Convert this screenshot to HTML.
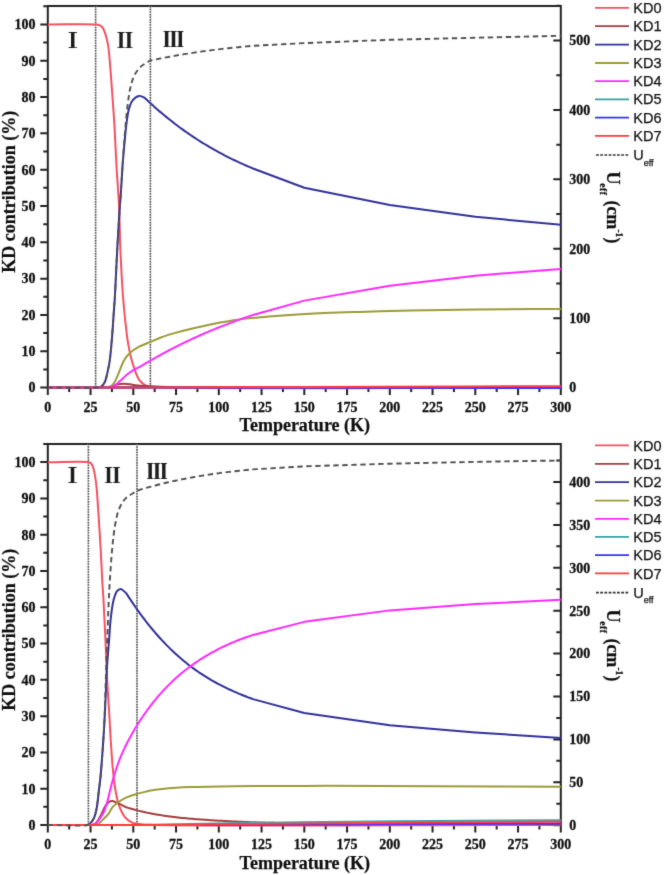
<!DOCTYPE html>
<html><head><meta charset="utf-8"><style>
html,body{margin:0;padding:0;background:#fff;}
svg{display:block;}
.tl{font-family:"Liberation Serif",serif;font-weight:bold;font-size:14px;fill:#111;stroke:#111;stroke-width:0.3px;}
.lg{font-family:"Liberation Sans",sans-serif;font-size:14.5px;fill:#111;stroke:#111;stroke-width:0.25px;}
.ti{font-family:"Liberation Serif",serif;font-weight:bold;font-size:18px;fill:#111;stroke:#111;stroke-width:0.25px;}
.rn{font-family:"Liberation Serif","Noto Serif CJK SC",serif;font-weight:900;font-size:21px;fill:#1a1a1a;}
</style></head><body>
<svg width="664" height="875" viewBox="0 0 664 875">
<defs><filter id="soft" x="0" y="0" width="100%" height="100%" filterUnits="userSpaceOnUse"><feConvolveMatrix order="3" kernelMatrix="0.01134 0.08382 0.01134 0.08382 0.61935 0.08382 0.01134 0.08382 0.01134" divisor="1" edgeMode="none"/></filter></defs>
<rect width="664" height="875" fill="#fff"/>
<g filter="url(#soft)">
<path d="M47.8,6.1 H560.8 V387.6 H47.8 Z" fill="none" stroke="#222" stroke-width="2"/>
<path d="M40.3,387.60 H47.8 M43.3,369.44 H47.8 M40.3,351.28 H47.8 M43.3,333.12 H47.8 M40.3,314.96 H47.8 M43.3,296.80 H47.8 M40.3,278.64 H47.8 M43.3,260.48 H47.8 M40.3,242.32 H47.8 M43.3,224.16 H47.8 M40.3,206.00 H47.8 M43.3,187.84 H47.8 M40.3,169.68 H47.8 M43.3,151.52 H47.8 M40.3,133.36 H47.8 M43.3,115.20 H47.8 M40.3,97.04 H47.8 M43.3,78.88 H47.8 M40.3,60.72 H47.8 M43.3,42.56 H47.8 M40.3,24.40 H47.8 M43.3,6.24 H47.8 M47.80,387.6 V395.1 M69.17,387.6 V392.1 M90.55,387.6 V395.1 M111.92,387.6 V392.1 M133.30,387.6 V395.1 M154.68,387.6 V392.1 M176.05,387.6 V395.1 M197.43,387.6 V392.1 M218.80,387.6 V395.1 M240.18,387.6 V392.1 M261.55,387.6 V395.1 M282.93,387.6 V392.1 M304.30,387.6 V395.1 M325.68,387.6 V392.1 M347.05,387.6 V395.1 M368.43,387.6 V392.1 M389.80,387.6 V395.1 M411.18,387.6 V392.1 M432.55,387.6 V395.1 M453.93,387.6 V392.1 M475.30,387.6 V395.1 M496.68,387.6 V392.1 M518.05,387.6 V395.1 M539.42,387.6 V392.1 M560.80,387.6 V395.1 M553.3,387.60 H560.8 M556.3,352.89 H560.8 M553.3,318.18 H560.8 M556.3,283.47 H560.8 M553.3,248.76 H560.8 M556.3,214.05 H560.8 M553.3,179.34 H560.8 M556.3,144.63 H560.8 M553.3,109.92 H560.8 M556.3,75.21 H560.8 M553.3,40.50 H560.8 M556.3,5.79 H560.8" stroke="#222" stroke-width="2" fill="none"/>
<line x1="95.6" y1="6.1" x2="95.6" y2="387.6" stroke="#cfcfcf" stroke-width="1.8"/>
<line x1="95.6" y1="6.1" x2="95.6" y2="387.6" stroke="#333" stroke-width="1.4" stroke-dasharray="1.3 1.3"/>
<line x1="150.4" y1="6.1" x2="150.4" y2="387.6" stroke="#cfcfcf" stroke-width="1.8"/>
<line x1="150.4" y1="6.1" x2="150.4" y2="387.6" stroke="#333" stroke-width="1.4" stroke-dasharray="1.3 1.3"/>
<path d="M47.80,24.40 C63.77,24.40 88.77,23.75 95.70,24.40 C97.64,24.58 98.27,24.59 99.40,25.10 C100.58,25.63 101.61,26.19 102.60,27.60 C104.56,30.37 106.38,37.01 107.60,42.60 C109.07,49.32 109.38,57.54 110.10,65.30 C110.86,73.45 111.34,81.36 112.00,90.40 C112.77,101.01 113.67,112.84 114.40,125.00 C115.22,138.55 115.80,154.21 116.60,168.00 C117.34,180.80 118.38,192.06 119.00,205.00 C119.68,219.26 119.75,235.00 120.40,250.00 C121.05,265.00 121.94,282.05 122.90,295.00 C123.63,304.86 124.42,312.78 125.30,321.00 C126.10,328.43 126.86,335.76 127.90,342.20 C128.78,347.65 129.71,352.50 130.90,357.20 C131.98,361.48 133.17,365.45 134.60,369.30 C135.96,372.97 137.20,377.06 139.20,379.80 C140.87,382.09 143.13,383.97 145.20,385.10 C146.92,386.04 148.27,386.21 150.50,386.60 C154.12,387.23 156.88,387.32 165.00,387.60 C207.38,389.06 428.87,387.60 560.80,387.60" fill="none" stroke="#f4505f" stroke-width="2" stroke-linejoin="round"/>
<path d="M108.00,387.60 C109.33,387.13 110.62,386.70 112.00,386.20 C113.48,385.67 114.85,384.91 116.60,384.50 C118.77,383.99 121.49,383.67 124.10,383.70 C126.97,383.74 129.88,384.53 133.10,384.90 C136.83,385.33 140.95,385.79 145.20,386.10 C149.93,386.44 154.00,386.59 160.20,386.80 C170.29,387.14 180.08,387.40 200.00,387.60 C259.97,388.20 440.53,387.60 560.80,387.60" fill="none" stroke="#a23c3c" stroke-width="2" stroke-linejoin="round"/>
<path d="M95.50,387.60 C97.27,387.33 99.30,387.59 100.80,386.80 C102.31,386.00 103.48,384.60 104.50,382.80 C105.94,380.24 106.63,375.94 107.50,372.30 C108.42,368.43 109.13,364.87 109.80,360.20 C110.71,353.87 111.37,345.21 112.00,337.70 C112.63,330.18 113.09,322.41 113.60,315.10 C114.08,308.20 114.54,302.72 115.00,295.00 C115.62,284.54 116.14,270.46 116.80,258.00 C117.47,245.27 118.23,231.67 119.00,219.40 C119.70,208.20 120.56,197.03 121.20,187.30 C121.73,179.19 122.05,172.40 122.60,165.00 C123.15,157.64 123.84,150.04 124.50,143.00 C125.11,136.48 125.61,130.11 126.40,124.20 C127.11,118.88 127.66,113.40 128.90,109.10 C129.88,105.71 130.78,102.55 132.60,100.30 C134.23,98.28 136.78,96.22 138.90,95.90 C140.75,95.62 142.63,97.10 144.50,97.70 L146.50,99.59 L148.50,101.46 L150.50,103.30 L152.50,105.11 L154.50,106.90 L156.50,108.67 L158.50,110.41 L160.50,112.12 L162.50,113.81 L164.50,115.48 L166.50,117.12 L168.50,118.74 L170.50,120.33 L172.50,121.90 L174.50,123.45 L176.50,124.97 L178.50,126.47 L180.50,127.95 L182.50,129.41 L184.50,130.84 L186.50,132.25 L188.50,133.65 L190.50,135.02 L192.50,136.36 L194.50,137.69 L196.50,139.00 L198.50,140.28 L200.50,141.55 L202.50,142.80 L204.50,144.02 L206.50,145.23 L208.50,146.42 L210.50,147.59 L212.50,148.74 L214.50,149.87 L216.50,150.98 L218.50,152.08 L220.50,153.16 L222.50,154.22 L224.50,155.27 L226.50,156.29 L228.50,157.31 L230.50,158.30 L232.50,159.28 L234.50,160.25 L236.50,161.20 L238.50,162.14 L240.50,163.06 L242.50,163.96 L244.50,164.86 L246.50,165.74 L248.50,166.60 L250.50,167.45 L252.50,168.29 L253.00,168.50 L304.30,187.70 L389.80,205.04 L475.30,216.86 L560.80,224.64" fill="none" stroke="#31319a" stroke-width="2" stroke-linejoin="round"/>
<path d="M106.00,387.60 C107.00,387.40 108.02,387.34 109.00,387.00 C110.02,386.65 111.08,386.28 112.00,385.50 C113.15,384.53 114.07,383.09 115.10,381.30 C116.62,378.65 118.10,374.31 119.60,370.80 C121.10,367.28 122.24,363.32 124.10,360.20 C125.80,357.35 127.69,354.90 130.10,352.70 C132.67,350.36 135.92,348.48 139.20,346.70 C142.69,344.81 146.87,343.35 150.50,341.80 C153.85,340.36 156.58,339.04 160.20,337.70 C164.65,336.06 170.25,334.35 175.30,332.90 C180.31,331.46 184.85,330.33 190.40,329.00 C197.14,327.38 205.07,325.53 212.90,324.00 C221.35,322.34 230.05,320.76 239.40,319.50 C249.80,318.10 261.45,317.13 272.50,316.20 C283.55,315.27 293.27,314.56 305.70,313.90 C321.58,313.06 342.24,312.46 360.00,311.90 C377.09,311.36 392.38,310.97 410.30,310.60 C430.85,310.18 453.10,309.87 476.50,309.60 C502.90,309.29 532.70,309.13 560.80,308.90" fill="none" stroke="#9b9b38" stroke-width="2" stroke-linejoin="round"/>
<path d="M108.00,387.60 C109.33,387.40 110.75,387.45 112.00,387.00 C113.25,386.55 114.33,385.76 115.50,384.90 C116.86,383.91 117.91,382.76 119.60,381.30 C122.29,378.97 126.46,374.85 130.10,372.30 C133.51,369.91 137.17,368.30 140.70,366.30 L142.70,365.10 L144.70,363.91 L146.70,362.73 L148.70,361.56 L150.70,360.40 L152.70,359.26 L154.70,358.13 L156.70,357.00 L158.70,355.89 L160.70,354.79 L162.70,353.70 L164.70,352.63 L166.70,351.56 L168.70,350.50 L170.70,349.46 L172.70,348.42 L174.70,347.40 L176.70,346.39 L178.70,345.38 L180.70,344.39 L182.70,343.41 L184.70,342.44 L186.70,341.48 L188.70,340.53 L190.70,339.59 L192.70,338.66 L194.70,337.74 L196.70,336.83 L198.70,335.93 L200.70,335.03 L202.70,334.15 L204.70,333.28 L206.70,332.42 L208.70,331.57 L210.70,330.72 L212.70,329.89 L214.70,329.07 L216.70,328.25 L218.70,327.45 L220.70,326.65 L222.70,325.86 L224.70,325.09 L226.70,324.32 L228.70,323.56 L230.70,322.80 L232.70,322.06 L234.70,321.33 L236.70,320.60 L238.70,319.88 L240.70,319.18 L242.70,318.48 L244.70,317.78 L246.70,317.10 L248.70,316.43 L250.70,315.76 L252.70,315.10 L253.00,315.00 L304.30,300.63 L389.80,285.82 L475.30,275.69 L560.80,268.93" fill="none" stroke="#ff2aff" stroke-width="2" stroke-linejoin="round"/>
<path d="" fill="none" stroke="#36a0a0" stroke-width="2" stroke-linejoin="round"/>
<path d="M47.80,387.60 C131.87,387.63 215.23,387.63 300.00,387.70 C386.20,387.77 473.87,387.90 560.80,388.00" fill="none" stroke="#3030ff" stroke-width="2" stroke-linejoin="round"/>
<path d="M47.80,387.60 C81.87,387.57 112.68,387.59 150.00,387.50 C195.22,387.39 243.13,387.09 300.00,386.90 C374.99,386.65 473.87,386.43 560.80,386.20" fill="none" stroke="#ff3a3a" stroke-width="2" stroke-linejoin="round"/>
<path d="M47.80,387.60 C63.70,387.60 87.57,388.34 95.50,387.60 C98.17,387.35 99.30,387.43 100.80,386.60 C102.31,385.77 103.48,384.40 104.50,382.60 C105.94,380.04 106.63,375.74 107.50,372.10 C108.42,368.23 109.13,364.67 109.80,360.00 C110.71,353.67 111.37,345.00 112.00,337.50 C112.63,330.00 113.09,322.30 113.60,315.00 C114.09,308.09 114.54,302.55 115.00,294.80 C115.62,284.32 116.14,270.26 116.80,257.80 C117.47,245.07 118.23,231.47 119.00,219.20 C119.70,208.00 120.56,196.81 121.20,187.10 C121.73,179.05 122.11,172.44 122.60,165.00 C123.10,157.41 123.65,149.17 124.20,142.00 C124.69,135.69 125.14,130.22 125.70,124.20 C126.27,117.99 126.83,111.36 127.60,105.30 C128.32,99.66 128.96,94.05 130.10,89.00 C131.12,84.49 132.10,80.15 133.90,76.40 C135.55,72.95 137.75,69.66 140.20,67.20 C142.41,64.97 145.82,63.15 147.70,62.00 C148.77,61.34 149.43,61.06 150.30,60.59 L152.30,60.16 L154.30,59.74 L156.30,59.32 L158.30,58.91 L160.30,58.51 L162.30,58.11 L164.30,57.72 L166.30,57.33 L168.30,56.95 L170.30,56.58 L172.30,56.22 L174.30,55.86 L176.30,55.50 L178.30,55.15 L180.30,54.81 L182.30,54.48 L184.30,54.15 L186.30,53.82 L188.30,53.50 L190.30,53.19 L192.30,52.88 L194.30,52.58 L196.30,52.28 L198.30,51.99 L200.30,51.70 L202.30,51.42 L204.30,51.15 L206.30,50.88 L208.30,50.61 L210.30,50.35 L212.30,50.09 L214.30,49.84 L216.30,49.60 L218.30,49.35 L220.30,49.12 L222.30,48.88 L224.30,48.66 L226.30,48.43 L228.30,48.21 L230.30,48.00 L232.30,47.79 L234.30,47.58 L236.30,47.38 L238.30,47.18 L240.30,46.98 L242.30,46.79 L244.30,46.61 L246.30,46.42 L248.30,46.24 L250.30,46.07 L252.30,45.89 L253.00,45.83 L304.30,43.11 L389.80,39.80 L475.30,37.75 L560.80,35.80" fill="none" stroke="#505050" stroke-width="1.9" stroke-dasharray="5.4 3.6"/>
<text class="tl" x="35.4" y="392.4" text-anchor="end">0</text>
<text class="tl" x="35.4" y="356.1" text-anchor="end">10</text>
<text class="tl" x="35.4" y="319.8" text-anchor="end">20</text>
<text class="tl" x="35.4" y="283.4" text-anchor="end">30</text>
<text class="tl" x="35.4" y="247.1" text-anchor="end">40</text>
<text class="tl" x="35.4" y="210.8" text-anchor="end">50</text>
<text class="tl" x="35.4" y="174.5" text-anchor="end">60</text>
<text class="tl" x="35.4" y="138.2" text-anchor="end">70</text>
<text class="tl" x="35.4" y="101.8" text-anchor="end">80</text>
<text class="tl" x="35.4" y="65.5" text-anchor="end">90</text>
<text class="tl" x="35.4" y="29.2" text-anchor="end">100</text>
<text class="tl" x="47.8" y="411.9" text-anchor="middle">0</text>
<text class="tl" x="90.5" y="411.9" text-anchor="middle">25</text>
<text class="tl" x="133.3" y="411.9" text-anchor="middle">50</text>
<text class="tl" x="176.1" y="411.9" text-anchor="middle">75</text>
<text class="tl" x="218.8" y="411.9" text-anchor="middle">100</text>
<text class="tl" x="261.6" y="411.9" text-anchor="middle">125</text>
<text class="tl" x="304.3" y="411.9" text-anchor="middle">150</text>
<text class="tl" x="347.1" y="411.9" text-anchor="middle">175</text>
<text class="tl" x="389.8" y="411.9" text-anchor="middle">200</text>
<text class="tl" x="432.6" y="411.9" text-anchor="middle">225</text>
<text class="tl" x="475.3" y="411.9" text-anchor="middle">250</text>
<text class="tl" x="518.0" y="411.9" text-anchor="middle">275</text>
<text class="tl" x="560.8" y="411.9" text-anchor="middle">300</text>
<text class="tl" x="569.3" y="392.4">0</text>
<text class="tl" x="569.3" y="323.0">100</text>
<text class="tl" x="569.3" y="253.6">200</text>
<text class="tl" x="569.3" y="184.1">300</text>
<text class="tl" x="569.3" y="114.7">400</text>
<text class="tl" x="569.3" y="45.3">500</text>
<line x1="595" y1="7.8" x2="629" y2="7.8" stroke="#f4505f" stroke-width="1.8"/>
<text class="lg" x="633.3" y="12.9">KD0</text>
<line x1="595" y1="26.2" x2="629" y2="26.2" stroke="#a23c3c" stroke-width="1.8"/>
<text class="lg" x="633.3" y="31.3">KD1</text>
<line x1="595" y1="44.6" x2="629" y2="44.6" stroke="#31319a" stroke-width="1.8"/>
<text class="lg" x="633.3" y="49.7">KD2</text>
<line x1="595" y1="63.0" x2="629" y2="63.0" stroke="#9b9b38" stroke-width="1.8"/>
<text class="lg" x="633.3" y="68.1">KD3</text>
<line x1="595" y1="81.2" x2="629" y2="81.2" stroke="#ff2aff" stroke-width="1.8"/>
<text class="lg" x="633.3" y="86.3">KD4</text>
<line x1="595" y1="99.3" x2="629" y2="99.3" stroke="#36a0a0" stroke-width="1.8"/>
<text class="lg" x="633.3" y="104.4">KD5</text>
<line x1="595" y1="117.6" x2="629" y2="117.6" stroke="#3030ff" stroke-width="1.8"/>
<text class="lg" x="633.3" y="122.7">KD6</text>
<line x1="595" y1="135.8" x2="629" y2="135.8" stroke="#ff3a3a" stroke-width="1.8"/>
<text class="lg" x="633.3" y="140.9">KD7</text>
<line x1="596" y1="155.0" x2="629.6" y2="155.0" stroke="#333" stroke-width="1.7" stroke-dasharray="2.8 1.4"/>
<text class="lg" x="633.3" y="160.1">U<tspan font-size="9" dy="5.6">eff</tspan></text>
<text class="ti" transform="translate(15.2,191.7) rotate(-90)" text-anchor="middle">KD contribution (%)</text>
<text class="ti" x="304.8" y="431.2" text-anchor="middle">Temperature (K)</text>
<g transform="translate(606.6,0.0) rotate(90)"><text class="ti" x="171.6" y="0">U</text><text class="ti" x="183.2" y="7.0" style="font-size:9.6px;letter-spacing:0.5px">eff</text><text class="ti" x="200.4" y="0">(cm</text><text class="ti" x="229.4" y="-9.2" style="font-size:9.6px">-1</text><text class="ti" x="237.6" y="0">)</text></g>
<text class="rn" x="72.7" y="47.6" text-anchor="middle">Ⅰ</text>
<text class="rn" x="125.0" y="47.9" text-anchor="middle">Ⅱ</text>
<text class="rn" x="173.6" y="47.3" text-anchor="middle">Ⅲ</text>
<path d="M47.8,443.9 H560.8 V825.0 H47.8 Z" fill="none" stroke="#222" stroke-width="2"/>
<path d="M40.3,825.00 H47.8 M43.3,806.86 H47.8 M40.3,788.71 H47.8 M43.3,770.57 H47.8 M40.3,752.42 H47.8 M43.3,734.27 H47.8 M40.3,716.13 H47.8 M43.3,697.99 H47.8 M40.3,679.84 H47.8 M43.3,661.70 H47.8 M40.3,643.55 H47.8 M43.3,625.40 H47.8 M40.3,607.26 H47.8 M43.3,589.12 H47.8 M40.3,570.97 H47.8 M43.3,552.83 H47.8 M40.3,534.68 H47.8 M43.3,516.54 H47.8 M40.3,498.39 H47.8 M43.3,480.25 H47.8 M40.3,462.10 H47.8 M43.3,443.96 H47.8 M47.80,825.0 V832.5 M69.17,825.0 V829.5 M90.55,825.0 V832.5 M111.92,825.0 V829.5 M133.30,825.0 V832.5 M154.68,825.0 V829.5 M176.05,825.0 V832.5 M197.43,825.0 V829.5 M218.80,825.0 V832.5 M240.18,825.0 V829.5 M261.55,825.0 V832.5 M282.93,825.0 V829.5 M304.30,825.0 V832.5 M325.68,825.0 V829.5 M347.05,825.0 V832.5 M368.43,825.0 V829.5 M389.80,825.0 V832.5 M411.18,825.0 V829.5 M432.55,825.0 V832.5 M453.93,825.0 V829.5 M475.30,825.0 V832.5 M496.68,825.0 V829.5 M518.05,825.0 V832.5 M539.42,825.0 V829.5 M560.80,825.0 V832.5 M553.3,825.20 H560.8 M556.3,803.75 H560.8 M553.3,782.30 H560.8 M556.3,760.85 H560.8 M553.3,739.40 H560.8 M556.3,717.95 H560.8 M553.3,696.50 H560.8 M556.3,675.05 H560.8 M553.3,653.60 H560.8 M556.3,632.15 H560.8 M553.3,610.70 H560.8 M556.3,589.25 H560.8 M553.3,567.80 H560.8 M556.3,546.35 H560.8 M553.3,524.90 H560.8 M556.3,503.45 H560.8 M553.3,482.00 H560.8 M556.3,460.55 H560.8" stroke="#222" stroke-width="2" fill="none"/>
<line x1="88.4" y1="443.9" x2="88.4" y2="825.0" stroke="#cfcfcf" stroke-width="1.8"/>
<line x1="88.4" y1="443.9" x2="88.4" y2="825.0" stroke="#333" stroke-width="1.4" stroke-dasharray="1.3 1.3"/>
<line x1="137.0" y1="443.9" x2="137.0" y2="825.0" stroke="#cfcfcf" stroke-width="1.8"/>
<line x1="137.0" y1="443.9" x2="137.0" y2="825.0" stroke="#333" stroke-width="1.4" stroke-dasharray="1.3 1.3"/>
<path d="M47.80,462.30 C61.43,462.30 83.51,461.22 88.70,462.30 C89.98,462.57 90.34,462.66 91.00,463.30 C91.94,464.20 92.54,465.81 93.20,467.80 C94.34,471.22 95.23,476.75 96.00,482.40 C97.04,490.08 97.50,500.00 98.20,509.80 C99.01,521.12 99.80,534.20 100.50,546.40 C101.20,558.60 101.82,573.11 102.40,583.00 C102.79,589.74 103.11,593.10 103.50,600.00 C104.11,610.72 104.91,628.03 105.50,641.10 C106.03,653.02 106.39,665.19 106.90,675.30 C107.31,683.35 107.76,689.83 108.20,697.00 C108.63,704.06 109.06,710.61 109.50,718.00 C109.99,726.25 110.41,735.37 111.00,744.20 C111.60,753.23 112.22,763.13 113.10,771.60 C113.86,778.97 114.64,786.06 115.80,792.20 C116.76,797.26 117.63,801.68 119.20,805.90 C120.66,809.83 122.40,813.96 124.70,816.80 C126.66,819.21 129.31,821.16 131.60,822.30 C133.44,823.21 134.86,823.32 137.10,823.70 C140.48,824.27 142.68,824.49 150.00,824.80 C191.21,826.56 423.87,824.93 560.80,825.00" fill="none" stroke="#f4505f" stroke-width="2" stroke-linejoin="round"/>
<path d="M92.00,825.00 C93.17,824.50 94.38,824.42 95.50,823.50 C97.13,822.16 98.59,819.36 100.10,816.80 C101.94,813.66 103.73,808.58 105.50,805.90 C106.68,804.11 107.70,802.57 109.00,801.80 C110.05,801.18 111.15,801.00 112.40,801.10 C114.03,801.23 115.91,802.32 117.90,803.20 C120.39,804.29 123.37,805.94 126.10,807.31 L128.10,807.91 L130.10,808.49 L132.10,809.05 L134.10,809.59 L136.10,810.12 L138.10,810.62 L140.10,811.11 L142.10,811.58 L144.10,812.03 L146.10,812.46 L148.10,812.88 L150.10,813.28 L152.10,813.67 L154.10,814.04 L156.10,814.39 L158.10,814.74 L160.10,815.06 L162.10,815.38 L164.10,815.68 L166.10,815.97 L168.10,816.25 L170.10,816.52 L172.10,816.77 L174.10,817.02 L176.10,817.25 L178.10,817.48 L180.10,817.69 L182.10,817.90 L184.10,818.10 L186.10,818.29 L188.10,818.48 L190.10,818.65 L192.10,818.82 L194.10,818.99 L196.10,819.14 L198.10,819.30 L200.10,819.45 L202.10,819.59 L204.10,819.73 L206.10,819.87 L208.10,820.00 L210.10,820.13 L212.10,820.26 L214.10,820.39 L216.10,820.51 L218.10,820.63 L220.10,820.74 L222.10,820.85 L224.10,820.96 L226.10,821.07 L228.10,821.18 L230.10,821.28 L232.10,821.38 L234.10,821.47 L236.10,821.57 L238.10,821.66 L240.10,821.74 L242.10,821.83 L244.10,821.91 L246.10,821.99 L248.10,822.07 L250.10,822.14 L252.10,822.22 L254.10,822.29 L256.10,822.36 L258.10,822.42 L260.10,822.49 L262.10,822.55 L264.10,822.61 L266.10,822.66 L268.10,822.72 L270.10,822.77 L272.10,822.82 L274.10,822.87 L276.10,822.91 L278.10,822.96 L280.10,823.00 L282.10,823.04 L284.10,823.08 L286.10,823.11 L288.10,823.15 L290.10,823.18 L292.10,823.21 L294.10,823.24 L296.10,823.27 L298.10,823.30 L300.10,823.32 L302.10,823.34 L304.10,823.36 L306.10,823.38 L308.10,823.40 L310.10,823.42 L312.10,823.43 L314.10,823.44 L316.10,823.46 L318.10,823.47 L320.10,823.48 L322.10,823.48 L324.10,823.49 L326.10,823.50 L328.10,823.50 L330.10,823.50 L332.10,823.51 L334.10,823.51 L336.10,823.51 L338.10,823.51 L340.10,823.50 L342.10,823.50 L344.10,823.50 L346.10,823.49 L348.10,823.49 L350.10,823.48 L352.10,823.47 L354.10,823.46 L356.10,823.46 L358.10,823.45 L360.10,823.44 L362.10,823.42 L364.10,823.41 L366.10,823.40 L368.10,823.39 L370.10,823.37 L372.10,823.36 L374.10,823.35 L376.10,823.33 L378.10,823.32 L380.10,823.30 L382.10,823.29 L384.10,823.27 L386.10,823.25 L388.10,823.24 L390.10,823.22 L392.10,823.20 L394.10,823.19 L396.10,823.17 L398.10,823.15 L400.10,823.14 L402.10,823.12 L404.10,823.10 L406.10,823.08 L408.10,823.07 L410.10,823.05 L412.10,823.03 L414.10,823.02 L416.10,823.00 L418.10,822.99 L420.10,822.97 L422.10,822.96 L424.10,822.94 L426.10,822.93 L428.10,822.91 L430.10,822.90 L432.10,822.89 L434.10,822.87 L436.10,822.86 L438.10,822.85 L440.10,822.84 L442.10,822.83 L444.10,822.82 L446.10,822.81 L448.10,822.80 L450.10,822.80 L452.10,822.79 L454.10,822.78 L456.10,822.78 L458.10,822.78 L460.10,822.77 L462.10,822.77 L464.10,822.77 L466.10,822.77 L468.10,822.77 L470.10,822.78 L472.10,822.78 L474.10,822.78 L476.10,822.79 L478.10,822.80 L480.10,822.81 L482.10,822.82 L484.10,822.83 L486.10,822.84 L488.10,822.85 L490.10,822.87 L492.10,822.89 L494.10,822.90 L496.10,822.92 L498.10,822.95 L500.10,822.97 L502.10,822.99 L504.10,823.02 L506.10,823.05 L508.10,823.08 L510.10,823.11 L512.10,823.14 L514.10,823.18 L516.10,823.22 L518.10,823.26 L520.10,823.30 L522.10,823.34 L524.10,823.38 L526.10,823.43 L528.10,823.48 L530.10,823.53 L532.10,823.59 L534.10,823.64 L536.10,823.70 L538.10,823.76 L540.10,823.82 L542.10,823.88 L544.10,823.95 L546.10,824.02 L548.10,824.09 L550.10,824.17 L552.10,824.24 L554.10,824.32 L556.10,824.40 L558.10,824.49 L560.10,824.57 L560.80,824.60" fill="none" stroke="#a23c3c" stroke-width="2" stroke-linejoin="round"/>
<path d="M87.70,825.00 C88.40,824.57 89.05,824.38 89.80,823.70 C91.04,822.56 92.81,820.41 93.90,818.20 C95.21,815.54 95.86,812.26 96.60,808.60 C97.56,803.89 98.04,797.57 98.70,792.20 C99.34,787.01 99.94,782.47 100.50,776.90 C101.16,770.24 101.73,762.64 102.30,754.90 C102.94,746.25 103.57,736.56 104.10,727.40 C104.63,718.26 105.05,709.45 105.50,700.00 C105.98,689.87 106.29,678.63 106.90,668.50 C107.47,659.04 108.32,649.84 109.00,641.10 C109.62,633.07 109.96,625.21 110.80,618.00 C111.54,611.61 112.29,604.88 113.60,600.00 C114.54,596.49 115.47,593.03 117.00,591.20 C118.02,589.97 119.29,588.95 120.60,589.00 C122.26,589.07 124.27,591.66 126.10,592.99 L128.10,596.11 L130.10,599.17 L132.10,602.17 L134.10,605.11 L136.10,607.99 L138.10,610.82 L140.10,613.58 L142.10,616.29 L144.10,618.95 L146.10,621.54 L148.10,624.09 L150.10,626.58 L152.10,629.01 L154.10,631.40 L156.10,633.73 L158.10,636.01 L160.10,638.23 L162.10,640.41 L164.10,642.54 L166.10,644.62 L168.10,646.65 L170.10,648.63 L172.10,650.56 L174.10,652.45 L176.10,654.30 L178.10,656.09 L180.10,657.84 L182.10,659.55 L184.10,661.22 L186.10,662.84 L188.10,664.42 L190.10,665.96 L192.10,667.46 L194.10,668.93 L196.10,670.35 L198.10,671.74 L200.10,673.09 L202.10,674.41 L204.10,675.70 L206.10,676.95 L208.10,678.17 L210.10,679.36 L212.10,680.52 L214.10,681.65 L216.10,682.75 L218.10,683.82 L220.10,684.87 L222.10,685.90 L224.10,686.90 L226.10,687.88 L228.10,688.83 L230.10,689.77 L232.10,690.68 L234.10,691.57 L236.10,692.45 L238.10,693.31 L240.10,694.14 L242.10,694.96 L244.10,695.76 L246.10,696.55 L248.10,697.31 L250.10,698.06 L252.10,698.80 L253.00,699.12 L304.30,713.00 L389.80,725.24 L475.30,732.47 L560.80,738.05" fill="none" stroke="#31319a" stroke-width="2" stroke-linejoin="round"/>
<path d="M95.00,825.00 C96.00,824.77 96.97,824.87 98.00,824.30 C99.53,823.46 101.15,821.23 102.80,819.60 C104.58,817.84 106.71,816.14 108.30,814.10 C109.91,812.04 110.75,809.26 112.40,807.30 C113.98,805.42 115.80,804.01 117.90,802.50 C120.29,800.78 123.19,799.07 126.10,797.70 C129.11,796.28 132.50,795.18 135.70,794.20 C138.80,793.25 141.96,792.61 145.00,791.90 C147.92,791.22 150.03,790.56 153.60,790.00 C159.36,789.09 169.77,788.29 176.40,787.80 C181.51,787.42 184.20,787.31 190.00,787.10 C200.30,786.73 216.78,786.40 232.90,786.20 C253.71,785.94 280.23,785.95 304.40,785.90 C329.25,785.85 349.39,785.82 380.00,785.90 C427.33,786.02 500.53,786.50 560.80,786.80" fill="none" stroke="#9b9b38" stroke-width="2" stroke-linejoin="round"/>
<path d="M92.00,825.00 C93.33,824.50 94.77,824.40 96.00,823.50 C97.54,822.37 98.79,820.12 100.10,818.20 C101.53,816.11 103.08,813.84 104.20,811.40 C105.37,808.86 106.01,806.30 106.90,803.20 C108.04,799.23 109.24,793.65 110.30,789.50 C111.18,786.04 111.97,783.16 112.80,779.99 L114.80,773.21 L116.80,767.08 L118.80,761.53 L120.80,756.47 L122.80,751.84 L124.80,747.55 L126.80,743.51 L128.80,739.66 L130.80,735.96 L132.80,732.40 L134.80,728.97 L136.80,725.67 L138.80,722.49 L140.80,719.42 L142.80,716.45 L144.80,713.57 L146.80,710.78 L148.80,708.08 L150.80,705.44 L152.80,702.88 L154.80,700.40 L156.80,697.98 L158.80,695.63 L160.80,693.35 L162.80,691.13 L164.80,688.97 L166.80,686.88 L168.80,684.85 L170.80,682.88 L172.80,680.96 L174.80,679.10 L176.80,677.29 L178.80,675.54 L180.80,673.83 L182.80,672.18 L184.80,670.57 L186.80,669.01 L188.80,667.49 L190.80,666.01 L192.80,664.58 L194.80,663.18 L196.80,661.82 L198.80,660.50 L200.80,659.21 L202.80,657.95 L204.80,656.72 L206.80,655.53 L208.80,654.36 L210.80,653.22 L212.80,652.11 L214.80,651.02 L216.80,649.97 L218.80,648.94 L220.80,647.93 L222.80,646.96 L224.80,646.00 L226.80,645.07 L228.80,644.17 L230.80,643.29 L232.80,642.43 L234.80,641.59 L236.80,640.78 L238.80,639.99 L240.80,639.22 L242.80,638.47 L244.80,637.74 L246.80,637.02 L248.80,636.33 L250.80,635.66 L252.80,635.00 L253.00,634.94 L304.30,621.86 L389.80,610.38 L475.30,603.99 L560.80,599.87" fill="none" stroke="#ff2aff" stroke-width="2" stroke-linejoin="round"/>
<path d="M140.00,825.00 C153.33,824.73 165.92,824.47 180.00,824.20 C195.74,823.90 211.93,823.60 230.00,823.30 C251.38,822.94 274.59,822.53 300.00,822.20 C330.37,821.81 362.73,821.50 400.00,821.20 C447.26,820.82 507.20,820.53 560.80,820.20" fill="none" stroke="#36a0a0" stroke-width="2" stroke-linejoin="round"/>
<path d="M200.00,825.00 C260.00,824.77 319.93,824.55 380.00,824.30 C440.20,824.05 500.53,823.77 560.80,823.50" fill="none" stroke="#3030ff" stroke-width="2" stroke-linejoin="round"/>
<path d="M47.80,825.00 C81.87,825.00 118.02,825.14 150.00,825.00 C178.30,824.88 198.37,824.58 230.00,824.30 C276.11,823.89 344.12,823.24 400.00,822.80 C454.35,822.37 507.20,822.07 560.80,821.70" fill="none" stroke="#ff3a3a" stroke-width="2" stroke-linejoin="round"/>
<path d="M47.80,825.00 C61.10,825.00 82.80,826.39 87.70,825.00 C88.92,824.65 89.05,824.38 89.80,823.70 C91.04,822.56 92.81,820.41 93.90,818.20 C95.21,815.54 95.86,812.26 96.60,808.60 C97.56,803.89 98.04,797.57 98.70,792.20 C99.34,787.01 99.94,782.47 100.50,776.90 C101.16,770.24 101.73,762.64 102.30,754.90 C102.94,746.25 103.65,735.52 104.10,727.40 C104.46,720.94 104.67,716.07 104.90,710.00 C105.15,703.33 105.28,695.96 105.50,689.00 C105.72,682.13 105.97,675.33 106.20,668.50 C106.43,661.67 106.65,654.84 106.90,648.00 C107.15,641.14 107.43,634.49 107.70,627.40 C107.99,619.85 108.26,611.59 108.60,604.00 C108.93,596.81 109.20,590.96 109.70,583.00 C110.36,572.48 111.33,557.03 112.40,546.40 C113.23,538.16 113.98,531.04 115.20,524.50 C116.21,519.08 117.01,514.22 118.80,509.80 C120.44,505.76 122.31,502.03 125.20,498.90 C128.30,495.55 133.13,493.36 137.10,490.59 L139.10,489.99 L141.10,489.39 L143.10,488.80 L145.10,488.23 L147.10,487.66 L149.10,487.10 L151.10,486.56 L153.10,486.02 L155.10,485.50 L157.10,484.98 L159.10,484.47 L161.10,483.98 L163.10,483.49 L165.10,483.01 L167.10,482.54 L169.10,482.08 L171.10,481.63 L173.10,481.18 L175.10,480.75 L177.10,480.32 L179.10,479.90 L181.10,479.50 L183.10,479.09 L185.10,478.70 L187.10,478.32 L189.10,477.94 L191.10,477.57 L193.10,477.21 L195.10,476.86 L197.10,476.51 L199.10,476.17 L201.10,475.84 L203.10,475.52 L205.10,475.20 L207.10,474.89 L209.10,474.59 L211.10,474.29 L213.10,474.00 L215.10,473.72 L217.10,473.44 L219.10,473.17 L221.10,472.90 L223.10,472.64 L225.10,472.39 L227.10,472.14 L229.10,471.90 L231.10,471.67 L233.10,471.44 L235.10,471.21 L237.10,470.99 L239.10,470.78 L241.10,470.57 L243.10,470.36 L245.10,470.16 L247.10,469.97 L249.10,469.78 L251.10,469.59 L253.00,469.42 L304.30,466.37 L389.80,463.69 L475.30,461.87 L560.80,460.49" fill="none" stroke="#505050" stroke-width="1.9" stroke-dasharray="5.4 3.6"/>
<text class="tl" x="35.4" y="829.8" text-anchor="end">0</text>
<text class="tl" x="35.4" y="793.5" text-anchor="end">10</text>
<text class="tl" x="35.4" y="757.2" text-anchor="end">20</text>
<text class="tl" x="35.4" y="720.9" text-anchor="end">30</text>
<text class="tl" x="35.4" y="684.6" text-anchor="end">40</text>
<text class="tl" x="35.4" y="648.3" text-anchor="end">50</text>
<text class="tl" x="35.4" y="612.1" text-anchor="end">60</text>
<text class="tl" x="35.4" y="575.8" text-anchor="end">70</text>
<text class="tl" x="35.4" y="539.5" text-anchor="end">80</text>
<text class="tl" x="35.4" y="503.2" text-anchor="end">90</text>
<text class="tl" x="35.4" y="466.9" text-anchor="end">100</text>
<text class="tl" x="47.8" y="849.3" text-anchor="middle">0</text>
<text class="tl" x="90.5" y="849.3" text-anchor="middle">25</text>
<text class="tl" x="133.3" y="849.3" text-anchor="middle">50</text>
<text class="tl" x="176.1" y="849.3" text-anchor="middle">75</text>
<text class="tl" x="218.8" y="849.3" text-anchor="middle">100</text>
<text class="tl" x="261.6" y="849.3" text-anchor="middle">125</text>
<text class="tl" x="304.3" y="849.3" text-anchor="middle">150</text>
<text class="tl" x="347.1" y="849.3" text-anchor="middle">175</text>
<text class="tl" x="389.8" y="849.3" text-anchor="middle">200</text>
<text class="tl" x="432.6" y="849.3" text-anchor="middle">225</text>
<text class="tl" x="475.3" y="849.3" text-anchor="middle">250</text>
<text class="tl" x="518.0" y="849.3" text-anchor="middle">275</text>
<text class="tl" x="560.8" y="849.3" text-anchor="middle">300</text>
<text class="tl" x="569.3" y="830.0">0</text>
<text class="tl" x="569.3" y="787.1">50</text>
<text class="tl" x="569.3" y="744.2">100</text>
<text class="tl" x="569.3" y="701.3">150</text>
<text class="tl" x="569.3" y="658.4">200</text>
<text class="tl" x="569.3" y="615.5">250</text>
<text class="tl" x="569.3" y="572.6">300</text>
<text class="tl" x="569.3" y="529.7">350</text>
<text class="tl" x="569.3" y="486.8">400</text>
<line x1="595" y1="445.4" x2="629" y2="445.4" stroke="#f4505f" stroke-width="1.8"/>
<text class="lg" x="633.3" y="450.5">KD0</text>
<line x1="595" y1="463.8" x2="629" y2="463.8" stroke="#a23c3c" stroke-width="1.8"/>
<text class="lg" x="633.3" y="468.9">KD1</text>
<line x1="595" y1="482.2" x2="629" y2="482.2" stroke="#31319a" stroke-width="1.8"/>
<text class="lg" x="633.3" y="487.3">KD2</text>
<line x1="595" y1="500.6" x2="629" y2="500.6" stroke="#9b9b38" stroke-width="1.8"/>
<text class="lg" x="633.3" y="505.7">KD3</text>
<line x1="595" y1="518.8" x2="629" y2="518.8" stroke="#ff2aff" stroke-width="1.8"/>
<text class="lg" x="633.3" y="523.9">KD4</text>
<line x1="595" y1="536.9" x2="629" y2="536.9" stroke="#36a0a0" stroke-width="1.8"/>
<text class="lg" x="633.3" y="542.0">KD5</text>
<line x1="595" y1="555.2" x2="629" y2="555.2" stroke="#3030ff" stroke-width="1.8"/>
<text class="lg" x="633.3" y="560.3">KD6</text>
<line x1="595" y1="573.4" x2="629" y2="573.4" stroke="#ff3a3a" stroke-width="1.8"/>
<text class="lg" x="633.3" y="578.5">KD7</text>
<line x1="596" y1="592.6" x2="629.6" y2="592.6" stroke="#333" stroke-width="1.7" stroke-dasharray="2.8 1.4"/>
<text class="lg" x="633.3" y="597.7">U<tspan font-size="9" dy="5.6">eff</tspan></text>
<text class="ti" transform="translate(15.2,629.7) rotate(-90)" text-anchor="middle">KD contribution (%)</text>
<text class="ti" x="304.8" y="868.6" text-anchor="middle">Temperature (K)</text>
<g transform="translate(606.6,438.0) rotate(90)"><text class="ti" x="171.6" y="0">U</text><text class="ti" x="183.2" y="7.0" style="font-size:9.6px;letter-spacing:0.5px">eff</text><text class="ti" x="200.4" y="0">(cm</text><text class="ti" x="229.4" y="-9.2" style="font-size:9.6px">-1</text><text class="ti" x="237.6" y="0">)</text></g>
<text class="rn" x="72.4" y="482.8" text-anchor="middle">Ⅰ</text>
<text class="rn" x="112.5" y="482.8" text-anchor="middle">Ⅱ</text>
<text class="rn" x="157.0" y="478.6" text-anchor="middle">Ⅲ</text>
</g>
</svg></body></html>
